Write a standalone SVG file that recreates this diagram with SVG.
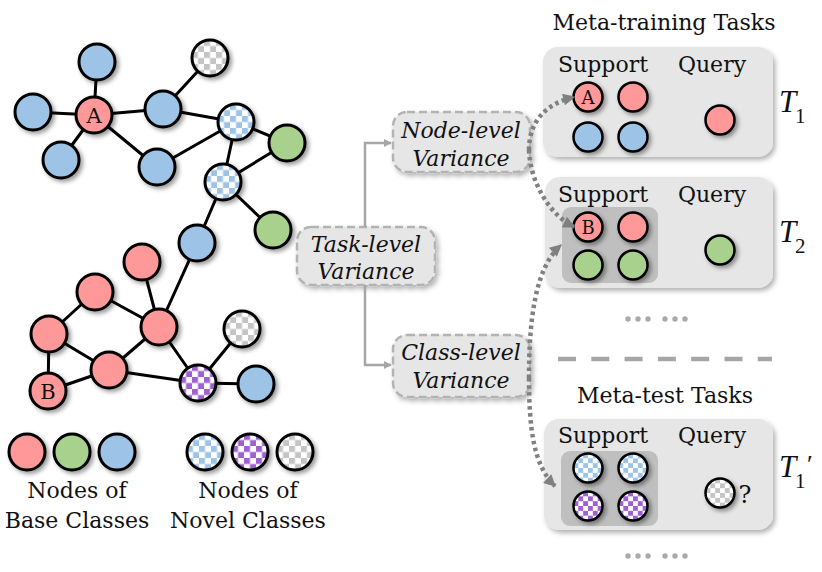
<svg xmlns="http://www.w3.org/2000/svg" width="822" height="572" viewBox="0 0 822 572">
<style>
  text { font-family: "DejaVu Serif", "Liberation Serif", serif; fill: #111; }
  .lbl { font-size: 22px; text-anchor: middle; }
  .it { font-size: 22px; font-style: italic; text-anchor: middle; }
  .edge { stroke: #000; stroke-width: 3; fill: none; }
  .n { stroke: #000; stroke-width: 3; filter: url(#sh); }
  .s { stroke: #000; stroke-width: 2.5; filter: url(#sh); }
  .red { fill: #ff9999; }
  .green { fill: #a9d18e; }
  .blue { fill: #9dc3e6; }
  .cb { fill: url(#chkB); }
  .cp { fill: url(#chkP); }
  .cg { fill: url(#chkG); }
  .var { fill: #e6e6e6; stroke: #b3b3b3; stroke-width: 2.5; stroke-dasharray: 8 4; filter: url(#sh2); }
  .task { fill: #e6e6e6; filter: url(#sh2); }
  .inner { fill: #bfbfbf; }
  .gline { stroke: #a6a6a6; stroke-width: 2.5; fill: none; }
  .dot { stroke: #808080; stroke-width: 4.5; stroke-dasharray: 3.5 3.5; fill: none; }
  .ell { fill: #aaaaaa; }
  .math { font-family: "Liberation Serif", serif; font-style: italic; }
</style>
<defs>
  <filter id="sh" x="-40%" y="-40%" width="190%" height="190%">
    <feDropShadow dx="2.5" dy="2.5" stdDeviation="2" flood-color="#000" flood-opacity="0.4"/>
  </filter>
  <filter id="sh2" x="-10%" y="-10%" width="125%" height="130%">
    <feDropShadow dx="2.5" dy="3" stdDeviation="2.5" flood-color="#000" flood-opacity="0.3"/>
  </filter>
  <pattern id="chkB" width="0.33334" height="0.33334" patternContentUnits="objectBoundingBox">
    <rect width="0.33334" height="0.33334" fill="#fff"/>
    <rect width="0.16667" height="0.16667" fill="#9dc3e6"/>
    <rect x="0.16667" y="0.16667" width="0.16667" height="0.16667" fill="#9dc3e6"/>
  </pattern>
  <pattern id="chkP" width="0.33334" height="0.33334" patternContentUnits="objectBoundingBox">
    <rect width="0.33334" height="0.33334" fill="#fff"/>
    <rect width="0.16667" height="0.16667" fill="#a05fd2"/>
    <rect x="0.16667" y="0.16667" width="0.16667" height="0.16667" fill="#a05fd2"/>
  </pattern>
  <pattern id="chkG" width="0.33334" height="0.33334" patternContentUnits="objectBoundingBox">
    <rect width="0.33334" height="0.33334" fill="#fff"/>
    <rect width="0.16667" height="0.16667" fill="#c4c4c4"/>
    <rect x="0.16667" y="0.16667" width="0.16667" height="0.16667" fill="#c4c4c4"/>
  </pattern>
  <marker id="ag" viewBox="0 0 10 10" refX="9" refY="5" markerWidth="8" markerHeight="8" markerUnits="userSpaceOnUse" orient="auto">
    <path d="M0,0 L10,5 L0,10 z" fill="#a6a6a6"/>
  </marker>
  <marker id="ad" viewBox="0 0 10 10" refX="9" refY="5" markerWidth="14" markerHeight="12" markerUnits="userSpaceOnUse" orient="auto">
    <path d="M0,0 L10,5 L0,10 z" fill="#808080"/>
  </marker>
</defs>

<!-- graph edges -->
<g id="graph-edges">
  <path class="edge" d="M94 115 L97 62 M94 115 L33 112 M94 115 L61 160 M94 115 L163 109 M94 115 L157 167
    M163 109 L210 58 M163 109 L236 122 M157 167 L236 122 M236 122 L287 143 M236 122 L223 182
    M223 182 L287 143 M223 182 L273 230 M223 182 L197 243 M197 243 L159 327
    M142 262 L159 327 M95 292 L159 327 M95 292 L49 334 M49 334 L48 391 M49 334 L109 370
    M48 391 L109 370 M109 370 L159 327 M109 370 L198 383 M159 327 L198 383
    M198 383 L242 329 M198 383 L256 384"/>
</g>

<!-- graph nodes -->
<g id="graph-nodes">
  <circle class="n blue" cx="97" cy="62" r="18"/>
  <circle class="n blue" cx="33" cy="112" r="18"/>
  <circle class="n blue" cx="61" cy="160" r="18"/>
  <circle class="n blue" cx="163" cy="109" r="18"/>
  <circle class="n blue" cx="157" cy="167" r="18"/>
  <circle class="n cg" cx="210" cy="58" r="18"/>
  <circle class="n cb" cx="236" cy="122" r="18"/>
  <circle class="n green" cx="287" cy="143" r="18"/>
  <circle class="n cb" cx="223" cy="182" r="18"/>
  <circle class="n green" cx="273" cy="230" r="18"/>
  <circle class="n blue" cx="197" cy="243" r="18"/>
  <circle class="n red" cx="142" cy="262" r="18"/>
  <circle class="n red" cx="95" cy="292" r="18"/>
  <circle class="n red" cx="159" cy="327" r="18"/>
  <circle class="n red" cx="49" cy="334" r="18"/>
  <circle class="n red" cx="109" cy="370" r="18"/>
  <circle class="n cp" cx="198" cy="383" r="18"/>
  <circle class="n cg" cx="242" cy="329" r="18"/>
  <circle class="n blue" cx="256" cy="384" r="18"/>
  <g id="node-A">
    <circle class="n red" cx="94" cy="115" r="18"/>
    <text x="94" y="123" class="lbl" style="font-size:21px">A</text>
  </g>
  <g id="node-B">
    <circle class="n red" cx="48" cy="391" r="18"/>
    <text x="48" y="399" class="lbl" style="font-size:21px">B</text>
  </g>
</g>

<!-- legend -->
<g id="legend-base">
  <circle class="n red" cx="27" cy="452" r="18"/>
  <circle class="n green" cx="72" cy="452" r="18"/>
  <circle class="n blue" cx="117" cy="452" r="18"/>
  <text x="77" y="498" class="lbl">Nodes of</text>
  <text x="77" y="528" class="lbl">Base Classes</text>
</g>
<g id="legend-novel">
  <circle class="n cb" cx="205" cy="452" r="18"/>
  <circle class="n cp" cx="250" cy="452" r="18"/>
  <circle class="n cg" cx="295" cy="452" r="18"/>
  <text x="248" y="498" class="lbl">Nodes of</text>
  <text x="248" y="528" class="lbl">Novel Classes</text>
</g>

<!-- meta-training -->
<text x="664" y="30" class="lbl">Meta-training Tasks</text>
<g id="task-1">
  <rect class="task" x="543" y="47" width="230" height="110" rx="15"/>
  <text x="603" y="72" class="lbl">Support</text>
  <text x="712" y="72" class="lbl">Query</text>
  <circle class="s red" cx="588" cy="97" r="14.5"/>
  <text x="588" y="104" class="lbl" style="font-size:18px">A</text>
  <circle class="s red" cx="633" cy="97" r="14.5"/>
  <circle class="s blue" cx="588" cy="137" r="14.5"/>
  <circle class="s blue" cx="633" cy="137" r="14.5"/>
  <circle class="s red" cx="720" cy="120" r="14.5"/>
  <text x="779" y="112" class="math" style="font-size:31px">T</text>
  <text x="795" y="123" class="math" style="font-size:21px;font-style:normal">1</text>
</g>
<g id="task-2">
  <rect class="task" x="545" y="177" width="228" height="111" rx="15"/>
  <rect class="inner" x="562" y="207" width="96" height="76" rx="9"/>
  <text x="603" y="202" class="lbl">Support</text>
  <text x="712" y="202" class="lbl">Query</text>
  <circle class="s red" cx="588" cy="227" r="14.5"/>
  <text x="588" y="234" class="lbl" style="font-size:18px">B</text>
  <circle class="s red" cx="633" cy="227" r="14.5"/>
  <circle class="s green" cx="588" cy="265" r="14.5"/>
  <circle class="s green" cx="633" cy="265" r="14.5"/>
  <circle class="s green" cx="720" cy="250" r="14.5"/>
  <text x="779" y="242" class="math" style="font-size:31px">T</text>
  <text x="795" y="253" class="math" style="font-size:21px;font-style:normal">2</text>
</g>
<g id="ellipsis-1">
  <circle class="ell" cx="628" cy="319" r="2.7"/>
  <circle class="ell" cx="638" cy="319" r="2.7"/>
  <circle class="ell" cx="648" cy="319" r="2.7"/>
  <circle class="ell" cx="665" cy="319" r="2.7"/>
  <circle class="ell" cx="675" cy="319" r="2.7"/>
  <circle class="ell" cx="685" cy="319" r="2.7"/>
</g>
<line id="separator" x1="558" y1="359" x2="772" y2="359" stroke="#a6a6a6" stroke-width="4.5" stroke-dasharray="18 15.3"/>

<!-- meta-test -->
<text x="665" y="403" class="lbl">Meta-test Tasks</text>
<g id="task-3">
  <rect class="task" x="544" y="419" width="229" height="111" rx="15"/>
  <rect class="inner" x="561" y="451" width="97" height="75" rx="9"/>
  <text x="603" y="443" class="lbl">Support</text>
  <text x="712" y="443" class="lbl">Query</text>
  <circle class="s cb" cx="588" cy="468" r="14.5"/>
  <circle class="s cb" cx="633" cy="468" r="14.5"/>
  <circle class="s cp" cx="588" cy="506" r="14.5"/>
  <circle class="s cp" cx="633" cy="506" r="14.5"/>
  <circle class="s cg" cx="720" cy="493" r="14.5"/>
  <text x="745" y="503" class="lbl" style="font-size:24px">?</text>
  <text x="779" y="477" class="math" style="font-size:31px">T</text>
  <text x="795" y="488" class="math" style="font-size:21px;font-style:normal">1</text>
  <text x="807" y="473" class="math" style="font-size:26px;font-style:normal">′</text>
</g>
<g id="ellipsis-2">
  <circle class="ell" cx="628" cy="556" r="2.7"/>
  <circle class="ell" cx="638" cy="556" r="2.7"/>
  <circle class="ell" cx="648" cy="556" r="2.7"/>
  <circle class="ell" cx="665" cy="556" r="2.7"/>
  <circle class="ell" cx="675" cy="556" r="2.7"/>
  <circle class="ell" cx="685" cy="556" r="2.7"/>
</g>

<!-- variance boxes -->
<g id="node-level">
  <rect class="var" x="393" y="112" width="137" height="60" rx="14"/>
  <text x="461" y="138" class="it">Node-level</text>
  <text x="461" y="166" class="it">Variance</text>
</g>
<g id="task-level">
  <rect class="var" x="297" y="227" width="138" height="58" rx="14"/>
  <text x="366" y="252" class="it">Task-level</text>
  <text x="366" y="279" class="it">Variance</text>
</g>
<g id="class-level">
  <rect class="var" x="393" y="335" width="137" height="62" rx="14"/>
  <text x="461" y="360" class="it">Class-level</text>
  <text x="461" y="388" class="it">Variance</text>
</g>

<!-- connectors -->
<g id="connectors">
  <path class="gline" d="M365 227 V143 H391" marker-end="url(#ag)"/>
  <path class="gline" d="M365 285 V365 H391" marker-end="url(#ag)"/>
  <path class="dot" d="M529 150 C529 122 545 104 574 97" marker-end="url(#ad)"/>
  <path class="dot" d="M529 150 C530 180 548 214 574 227" marker-end="url(#ad)"/>
  <path class="dot" d="M529 378 C529 320 535 268 561 245" marker-end="url(#ad)"/>
  <path class="dot" d="M529 378 C529 430 534 466 555 486" marker-end="url(#ad)"/>
</g>
</svg>
